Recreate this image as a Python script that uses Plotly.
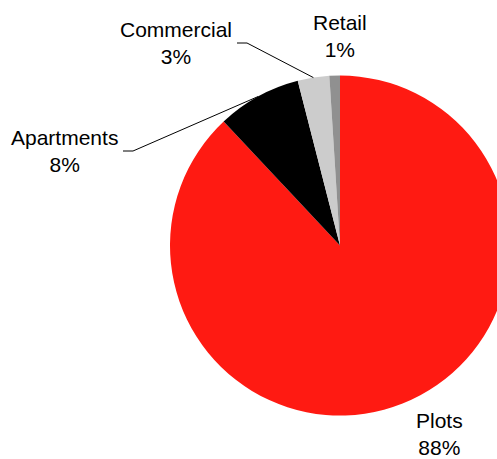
import math
import plotly.graph_objects as go

# Share of sales by property type (percent)
categories = ["Plots", "Apartments", "Commercial", "Retail"]
shares = [88, 8, 3, 1]
colors = ["#FF1A12", "#000000", "#CCCCCC", "#909090"]

# Canvas (slightly wider than the view so the pie runs off the right edge)
W, H = 517, 459
CX, CY, R = 340, 245.5, 170  # pie centre and radius in pixels


def px(x, y):
    """Pixel position (from top-left) -> paper coordinates."""
    return x / W, 1 - y / H


fig = go.Figure(
    go.Pie(
        labels=categories,
        values=shares,
        marker=dict(colors=colors, line=dict(width=0)),
        sort=False,
        direction="clockwise",
        rotation=0,
        textinfo="none",
        hoverinfo="label+percent",
        domain=dict(x=[(CX - R) / W, (CX + R) / W], y=[1 - (CY + R) / H, 1 - (CY - R) / H]),
        showlegend=False,
    )
)

# mid-angle of every slice, measured clockwise from 12 o'clock
total = sum(shares)
mid_angles = {}
acc = 0
for name, v in zip(categories, shares):
    mid_angles[name] = (acc + v / 2) / total * 360
    acc += v


def rim_point(name):
    a = math.radians(mid_angles[name])
    return CX + R * math.sin(a), CY - R * math.cos(a)


# label placement (pixel centre of each two-line label)
label_pos = {
    "Retail": (340, 36),
    "Commercial": (176, 43),
    "Apartments": (64, 151),
    "Plots": (439, 434),
}

for name, v in zip(categories, shares):
    lx, ly = label_pos[name]
    ax, ay = px(lx, ly)
    fig.add_annotation(
        x=ax, y=ay, xref="paper", yref="paper",
        text=f"{name}<br>{v}%",
        showarrow=False,
        borderpad=0,
        font=dict(family="Liberation Sans, Arial, sans-serif", size=21, color="#000000"),
        xanchor="center", yanchor="middle", align="center",
    )

# elbow leader lines from the two left-hand labels to their slices
leaders = {
    "Commercial": (237, 43),
    "Apartments": (123, 151),
}
for name, (sx, sy) in leaders.items():
    ex, ey = rim_point(name)
    pts = [px(sx, sy), px(sx + 10, sy), px(ex, ey)]
    path = "M {} {} L {} {} L {} {}".format(*[c for p in pts for c in p])
    fig.add_shape(type="path", path=path, xref="paper", yref="paper",
                  line=dict(color="#000000", width=1))

fig.update_layout(
    width=W, height=H,
    margin=dict(l=0, r=0, t=0, b=0),
    paper_bgcolor="#FFFFFF",
    plot_bgcolor="#FFFFFF",
)

fig.write_html(
    "out.html",
    post_script="document.documentElement.style.overflow='hidden';document.body.style.overflow='hidden';document.body.style.margin='0';",
)
